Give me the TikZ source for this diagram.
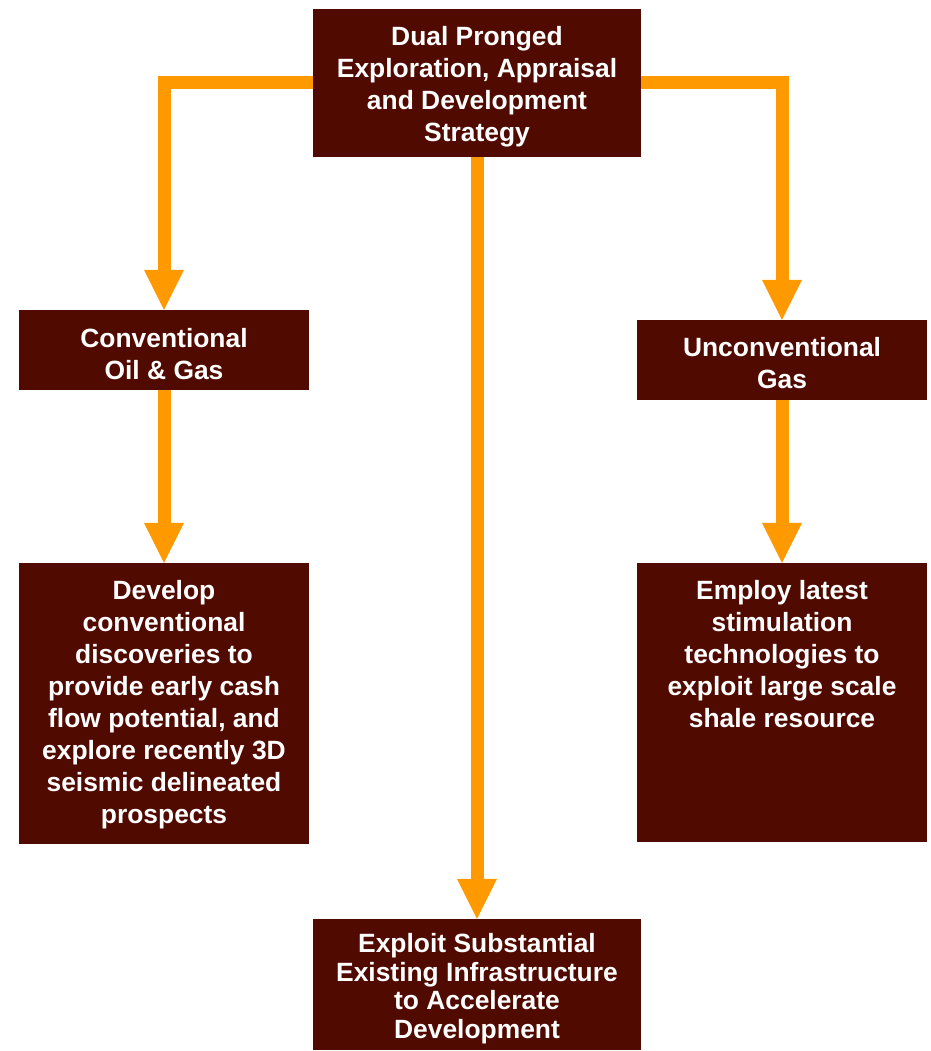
\documentclass[tikz,border=0pt]{standalone}
\usepackage{fontspec}
\setmainfont{Liberation Sans}
\usetikzlibrary{arrows.meta}
\definecolor{boxred}{RGB}{80,10,0}
\definecolor{flow}{RGB}{255,153,0}
\begin{document}
\begin{tikzpicture}[x=1pt,y=-1pt,
  box/.style={fill=boxred, draw=none, inner sep=0pt},
  boxtext/.style={inner sep=0pt, text=white, align=center,
    font=\bfseries\fontsize{26.4}{32}\selectfont},
  toptext/.style={boxtext, anchor=north},
  flowline/.style={draw=flow, line width=13pt, line join=miter,
    -{Triangle[length=40pt,width=40pt,line width=0pt]}}]
\useasboundingbox (0,0) rectangle (930,1051);

% strategy box at the top
\node[box, minimum width=328pt, minimum height=148pt] (top) at (477,83) {};
\node[boxtext] (toptxt) at ([yshift=-4pt]top.center)
  {Dual Pronged\\Exploration, Appraisal\\and Development\\Strategy};

% the two prongs
\node[box, minimum width=290pt, minimum height=80pt] (conv) at (164,350) {};
\node[boxtext] (convtxt) at ([yshift=-4pt]conv.center)
  {Conventional\\Oil \& Gas};
\node[box, minimum width=290pt, minimum height=80pt] (unconv) at (782,360) {};
\node[boxtext] (unconvtxt) at ([yshift=-3pt]unconv.center)
  {Unconventional\\Gas};

% detail boxes, text set from the top
\node[box, minimum width=290pt, minimum height=281pt] (devl) at (164,703.5) {};
\node[toptext] (devltext) at ([yshift=-17pt]devl.north)
  {Develop\\conventional\\discoveries to\\provide early cash\\flow potential, and\\explore recently 3D\\seismic delineated\\prospects};
\node[box, minimum width=290pt, minimum height=279pt] (empl) at (782,702.5) {};
\node[toptext] (empltext) at ([yshift=-17pt]empl.north)
  {Employ latest\\stimulation\\technologies to\\exploit large scale\\shale resource};

% infrastructure box at the bottom
\node[box, minimum width=328pt, minimum height=131pt] (infra) at (477,984.5) {};
\node[boxtext, font=\bfseries\fontsize{26.4}{28.5}\selectfont] (infratxt)
  at ([yshift=-4pt]infra.center)
  {Exploit Substantial\\Existing Infrastructure\\to Accelerate\\Development};

% connectors
\draw[flowline] (top.west) -| (conv.north);
\draw[flowline] (top.east) -| (unconv.north);
\draw[flowline] (top.south) -- (infra.north);
\draw[flowline] (conv.south) -- (devl.north);
\draw[flowline] (unconv.south) -- (empl.north);
\end{tikzpicture}
\end{document}
